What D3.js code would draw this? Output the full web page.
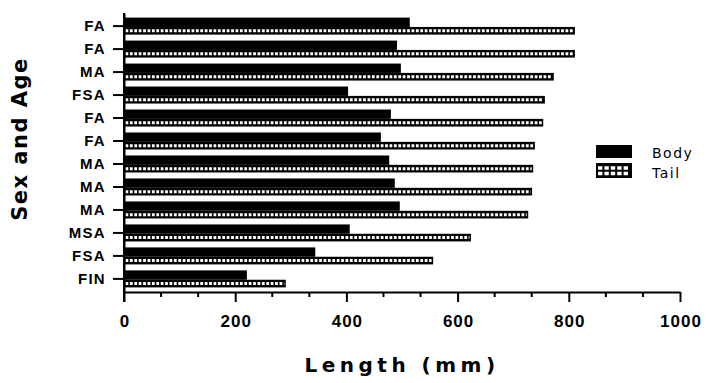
<!DOCTYPE html>
<html>
<head>
<meta charset="utf-8">
<script src="https://cdn.jsdelivr.net/npm/d3@7"></script>
<style>
  body { margin: 0; background: #fff; }
  svg { display: block; font-family: "DejaVu Sans", "Liberation Sans", Arial, sans-serif; }
</style>
</head>
<body>
<div class="js-canvas"></div>
<script>
'use strict';

// data, top row first
const categories = ['FA', 'FA', 'MA', 'FSA', 'FA', 'FA', 'MA', 'MA', 'MA', 'MSA', 'FSA', 'FIN'];
const bodyLength = [514, 491, 498, 403, 480, 462, 477, 487, 496, 406, 344, 221];
const tailLength = [811, 811, 773, 757, 754, 739, 736, 734, 727, 624, 556, 291];
const xTicks = [0, 200, 400, 600, 800, 1000];
const seriesNames = ['Body', 'Tail'];

const config = {
    width: 706,
    height: 383,
    left: 124,
    right: 680,
    top: 13,
    bottom: 292
};

const svg = d3.select('.js-canvas')
    .append('svg')
    .attr('width', config.width)
    .attr('height', config.height);

const x = d3.scaleLinear()
    .domain([0, 1000])
    .range([config.left, config.right]);

const y = d3.scaleBand()
    .domain(d3.range(categories.length))
    .range([config.top, config.bottom])
    .paddingInner(0.26)
    .paddingOuter(0.2);

const bw = y.bandwidth();
const bodyH = bw * 0.55;
const tailH = bw - bodyH;

const rows = categories.map((c, i) => ({ i, c, body: bodyLength[i], tail: tailLength[i] }));

// tail bars: black with a row of white squares
const tails = svg.append('g').selectAll('g')
    .data(rows)
    .enter().append('g');

tails.append('rect')
    .attr('x', x(0))
    .attr('y', d => y(d.i) + bodyH)
    .attr('width', d => x(d.tail) - x(0))
    .attr('height', tailH)
    .attr('fill', '#000');

tails.append('line')
    .attr('x1', x(0) + 1.5)
    .attr('x2', d => x(d.tail) - 1.5)
    .attr('y1', d => y(d.i) + bodyH + tailH / 2)
    .attr('y2', d => y(d.i) + bodyH + tailH / 2)
    .attr('stroke', '#fff')
    .attr('stroke-width', 3)
    .attr('stroke-dasharray', '2.8,1.6');

// body bars
svg.append('g').selectAll('rect')
    .data(rows)
    .enter().append('rect')
    .attr('x', x(0))
    .attr('y', d => y(d.i))
    .attr('width', d => x(d.body) - x(0))
    .attr('height', bodyH)
    .attr('fill', '#000');

// axes
const xAxis = d3.axisBottom(x)
    .tickValues(xTicks)
    .tickFormat(d3.format('d'))
    .tickSize(10)
    .tickSizeOuter(0)
    .tickPadding(13);

const xAxisGroup = svg.append('g')
    .attr('transform', `translate(0, ${config.bottom})`)
    .call(xAxis);

// minor ticks, three per major interval
const minor = [];
for (let k = 0; k < xTicks.length - 1; k++) {
    const step = (xTicks[k + 1] - xTicks[k]) / 3;
    minor.push(xTicks[k] + step, xTicks[k] + 2 * step);
}
xAxisGroup.selectAll('.minor')
    .data(minor)
    .enter().append('line')
    .attr('class', 'minor')
    .attr('x1', d => x(d)).attr('x2', d => x(d))
    .attr('y1', 0).attr('y2', 5)
    .attr('stroke', '#000')
    .attr('stroke-width', 2);

xAxisGroup.selectAll('text')
    .attr('font-size', 17)
    .attr('font-weight', 'bold')
    .attr('letter-spacing', 1)
    .attr('dx', 0.5)
    .attr('fill', '#000');

const yAxis = d3.axisLeft(y)
    .tickSize(11)
    .tickSizeOuter(0)
    .tickPadding(7)
    .tickFormat(i => categories[i]);

const yAxisGroup = svg.append('g')
    .attr('transform', `translate(${config.left}, 0)`)
    .call(yAxis);

yAxisGroup.selectAll('text')
    .attr('font-size', 15)
    .attr('font-weight', 'bold')
    .attr('letter-spacing', 1.3)
    .attr('fill', '#000');

svg.selectAll('.domain, .tick line')
    .attr('stroke', '#000')
    .attr('stroke-width', 2);

// y axis runs down to the end of the zero tick
svg.append('line')
    .attr('x1', x(0)).attr('x2', x(0))
    .attr('y1', config.top).attr('y2', config.bottom + 10)
    .attr('stroke', '#000')
    .attr('stroke-width', 2);

// axis titles
svg.append('text')
    .attr('x', 402)
    .attr('y', 372)
    .attr('text-anchor', 'middle')
    .attr('font-size', 20)
    .attr('font-weight', 'bold')
    .attr('letter-spacing', 4.5)
    .text('Length (mm)');

svg.append('text')
    .attr('transform', 'translate(27, 139) rotate(-90)')
    .attr('text-anchor', 'middle')
    .attr('font-size', 21)
    .attr('font-weight', 'bold')
    .attr('letter-spacing', 1.5)
    .text('Sex and Age');

// legend
const legend = svg.append('g').attr('transform', 'translate(596, 145)');

legend.append('rect')
    .attr('x', 0).attr('y', 0)
    .attr('width', 36).attr('height', 13)
    .attr('fill', '#000');

legend.append('rect')
    .attr('x', 0).attr('y', 18)
    .attr('width', 36).attr('height', 15)
    .attr('fill', '#000');

[23, 28.5].forEach(ly => {
    legend.append('line')
        .attr('x1', 2).attr('x2', 34)
        .attr('y1', ly).attr('y2', ly)
        .attr('stroke', '#fff')
        .attr('stroke-width', 3.5)
        .attr('stroke-dasharray', '4.4,2');
});

legend.selectAll('.label')
    .data(seriesNames)
    .enter().append('text')
    .attr('class', 'label')
    .attr('x', 56)
    .attr('y', (d, i) => 13 + i * 20)
    .attr('font-size', 14)
    .attr('letter-spacing', 1.5)
    .text(d => d);
</script>
</body>
</html>
